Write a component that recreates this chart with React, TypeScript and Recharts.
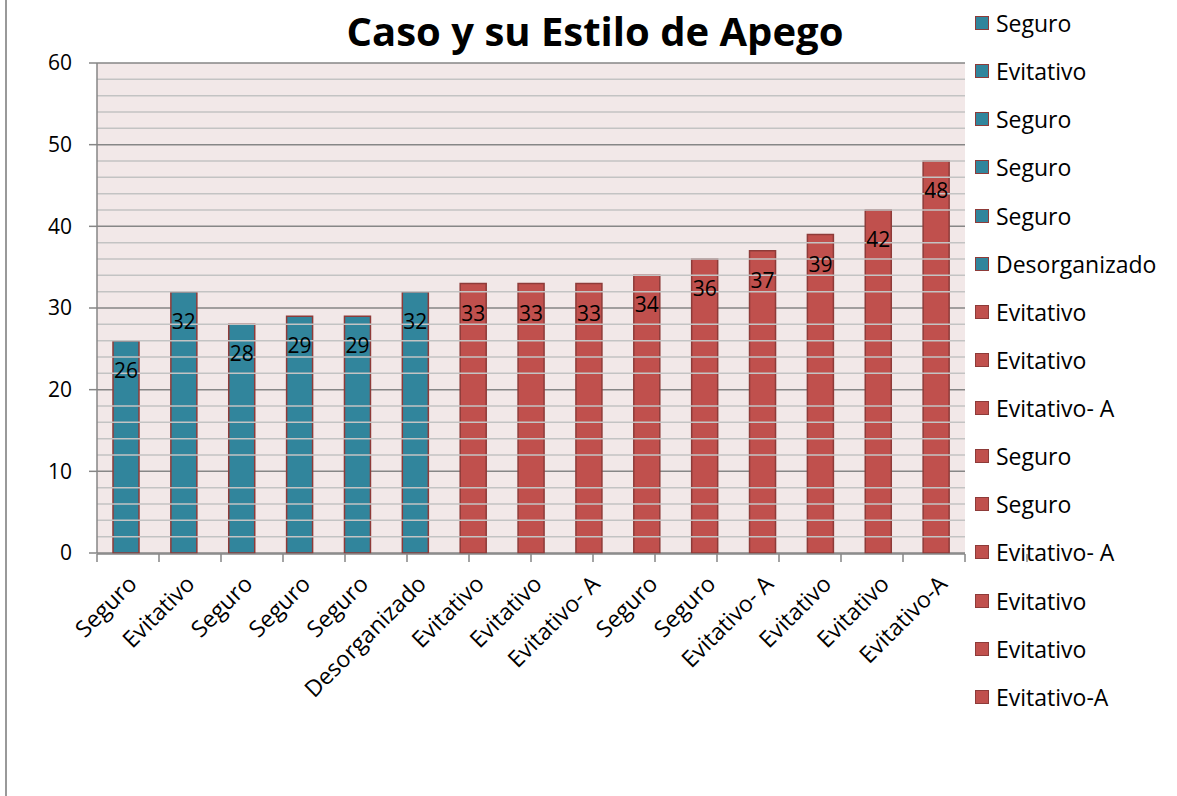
// Caso y su Estilo de Apego — bar chart with per-case attachment style, Excel look.
import {
  BarChart, Bar, XAxis, YAxis, CartesianGrid, Cell, LabelList, ReferenceLine, Legend,
} from "recharts";

const categories = [
  "Seguro", "Evitativo", "Seguro", "Seguro", "Seguro", "Desorganizado",
  "Evitativo", "Evitativo", "Evitativo- A", "Seguro", "Seguro", "Evitativo- A",
  "Evitativo", "Evitativo", "Evitativo-A",
];
const values = [26, 32, 28, 29, 29, 32, 33, 33, 33, 34, 36, 37, 39, 42, 48];
const barColors = [
  "#31859C", "#31859C", "#31859C", "#31859C", "#31859C", "#31859C",
  "#C0504D", "#C0504D", "#C0504D", "#C0504D", "#C0504D", "#C0504D",
  "#C0504D", "#C0504D", "#C0504D",
];
const yTicks = [0, 10, 20, 30, 40, 50, 60];
const minorLines = [2, 4, 6, 8, 12, 14, 16, 18, 22, 24, 26, 28, 32, 34, 36, 38, 42, 44, 46, 48, 52, 54, 56, 58];
const boundaryTicks = [0, 1, 2, 3, 4, 5, 6, 7, 8, 9, 10, 11, 12, 13, 14, 15];

const data = categories.map((name, i) => ({ name, value: values[i], idx: i }));

const FONT = "'Open Sans', 'Noto Sans', sans-serif";
const FS_NUM = 21;
const FS_TXT = 23;
const EDGE = "#8E3B39";
const AXIS = "#868686";

const CategoryTick = ({ x, y, payload }: any) => {
  const ax = x + 6;
  const ay = y + 18;
  return (
    <text
      x={ax}
      y={ay}
      transform={`rotate(-45, ${ax}, ${ay})`}
      textAnchor="end"
      dominantBaseline="central"
      fontSize={FS_TXT}
      fontFamily={FONT}
      fill="#000"
    >
      {payload.value}
    </text>
  );
};

const NoTick = () => <g />;

const ValueLabel = ({ x, y, width, value }: any) => (
  <text
    x={x + width / 2}
    y={y + 29}
    textAnchor="middle"
    dominantBaseline="central"
    fontSize={FS_NUM}
    fontFamily={FONT}
    fill="#000"
  >
    {value}
  </text>
);

const LegendList = () => (
  <div style={{ fontFamily: FONT, fontSize: FS_TXT, color: "#000" }}>
    {categories.map((c, i) => (
      <div key={i} style={{ display: "flex", alignItems: "center", height: 48.14 }}>
        <span
          style={{
            width: 12, height: 12, background: barColors[i], border: `1.5px solid ${EDGE}`,
            marginRight: 7, display: "inline-block", flex: "none",
          }}
        />
        <span style={{ whiteSpace: "nowrap" }}>{c}</span>
      </div>
    ))}
  </div>
);

export default function App() {
  return (
    <div style={{ position: "absolute", left: 0, top: 0, width: 1177, height: 796, background: "#fff" }}>
      <div style={{ position: "absolute", left: 5, top: 0, width: 0, height: 796, borderLeft: "2px solid #999" }} />
      <div
        style={{
          position: "absolute", left: 0, width: 1190, top: 3, textAlign: "center",
          fontFamily: FONT, fontWeight: 700, fontSize: 40, lineHeight: "56px",
        }}
      >
        Caso y su Estilo de Apego
      </div>
      <BarChart
        width={1177}
        height={796}
        data={data}
        margin={{ top: 63, right: 12, bottom: 241, left: 0 }}
      >
        <CartesianGrid vertical={false} stroke={AXIS} strokeWidth={1.5} fill="#F2E8E8" fillOpacity={1} />
        {minorLines.map((v) => (
          <ReferenceLine key={v} y={v} stroke="#C3C3C3" strokeWidth={1.5} />
        ))}
        <XAxis
          xAxisId="grid"
          type="number"
          domain={[0, 15]}
          ticks={boundaryTicks}
          height={1}
          tick={<NoTick />}
          tickSize={8}
          axisLine={{ stroke: AXIS, strokeWidth: 1.5 }}
          tickLine={{ stroke: AXIS, strokeWidth: 1.5 }}
        />
        <XAxis
          dataKey="name"
          height={1}
          interval={0}
          axisLine={false}
          tickLine={false}
          tick={<CategoryTick />}
        />
        <YAxis
          width={97}
          domain={[0, 60]}
          ticks={yTicks}
          tickSize={8}
          tickMargin={17}
          axisLine={{ stroke: AXIS, strokeWidth: 1.5 }}
          tickLine={{ stroke: AXIS, strokeWidth: 1.5 }}
          tick={{ fontSize: FS_NUM, fontFamily: FONT, fill: "#000" }}
        />
        <Bar dataKey="value" stroke={EDGE} strokeWidth={1.5} barSize={26} isAnimationActive={false}>
          {data.map((d) => (
            <Cell key={d.idx} fill={barColors[d.idx]} />
          ))}
          <LabelList dataKey="value" content={<ValueLabel />} />
        </Bar>
        <Legend
          layout="vertical"
          verticalAlign="top"
          align="right"
          content={<LegendList />}
          wrapperStyle={{ position: "absolute", left: 975, top: -1, width: 200 }}
        />
      </BarChart>
    </div>
  );
}
